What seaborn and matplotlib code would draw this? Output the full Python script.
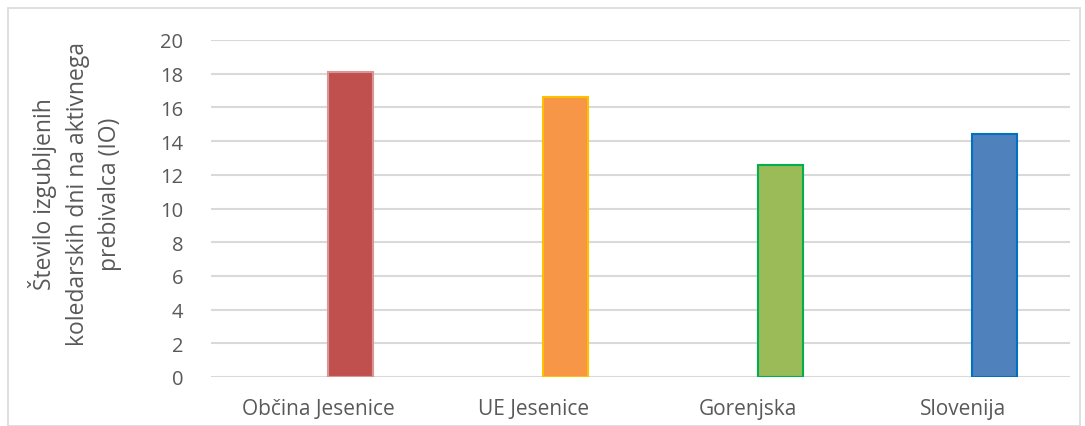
import matplotlib.pyplot as plt
import matplotlib.patches as mpatches
import pandas as pd
import seaborn as sns

categories = ['Občina Jesenice', 'UE Jesenice', 'Gorenjska', 'Slovenija']
values = [18.1, 16.6, 12.6, 14.4]
fill_colors = ['#C0504D', '#F79646', '#9BBB59', '#4F81BD']
edge_colors = ['#D99694', '#FFC000', '#00B050', '#0070C0']
y_ticks = [0, 2, 4, 6, 8, 10, 12, 14, 16, 18, 20]
y_label = 'Število izgubljenih\nkoledarskih dni na aktivnega\nprebivalca (IO)'

# Excel-style layout: an empty first series pushes the real bar right of center
df = pd.DataFrame({
    'kategorija': categories * 2,
    'serija': ['prazno'] * len(categories) + ['IO'] * len(categories),
    'vrednost': [0] * len(categories) + values,
})

sns.set_style('white')
plt.rcParams['font.family'] = ['Open Sans', 'DejaVu Sans']

fig = plt.figure(figsize=(10.85, 4.27), dpi=100)
ax = fig.add_axes([211 / 1085, 1 - 378 / 427, (1070 - 211) / 1085, (378 - 41) / 427])

sns.barplot(data=df, x='kategorija', y='vrednost', hue='serija',
            width=0.6, gap=0.3, legend=False, ax=ax, zorder=3)

for bar in ax.containers[0]:
    bar.set_visible(False)
for bar, fc, ec in zip(ax.containers[1], fill_colors, edge_colors):
    bar.set_facecolor(fc)
    bar.set_edgecolor(ec)
    bar.set_linewidth(1.5)

ax.set_ylim(0, 20)
ax.set_xlim(-0.5, len(categories) - 0.5)
ax.set_yticks(y_ticks)
ax.yaxis.grid(True, color='#D9D9D9', linewidth=1.5, zorder=0)
ax.set_axisbelow(True)
for side in ['top', 'right', 'left', 'bottom']:
    ax.spines[side].set_visible(False)
ax.tick_params(axis='both', length=0, labelsize=14.5, labelcolor='#595959')
ax.tick_params(axis='x', labelsize=15)
ax.tick_params(axis='y', pad=20)
ax.tick_params(axis='x', pad=15)
ax.set_xlabel('')
ax.set_ylabel(y_label, fontsize=16.5, color='#595959', linespacing=1.45)
ax.yaxis.set_label_coords(-0.104, 0.546)

fig.patches.append(mpatches.Rectangle((8 / 1085, 0), 1072 / 1085, 1 - 9 / 427,
                                      transform=fig.transFigure, fill=False,
                                      edgecolor='#D9D9D9', linewidth=1.2))

fig.savefig('out.png', dpi=100)
